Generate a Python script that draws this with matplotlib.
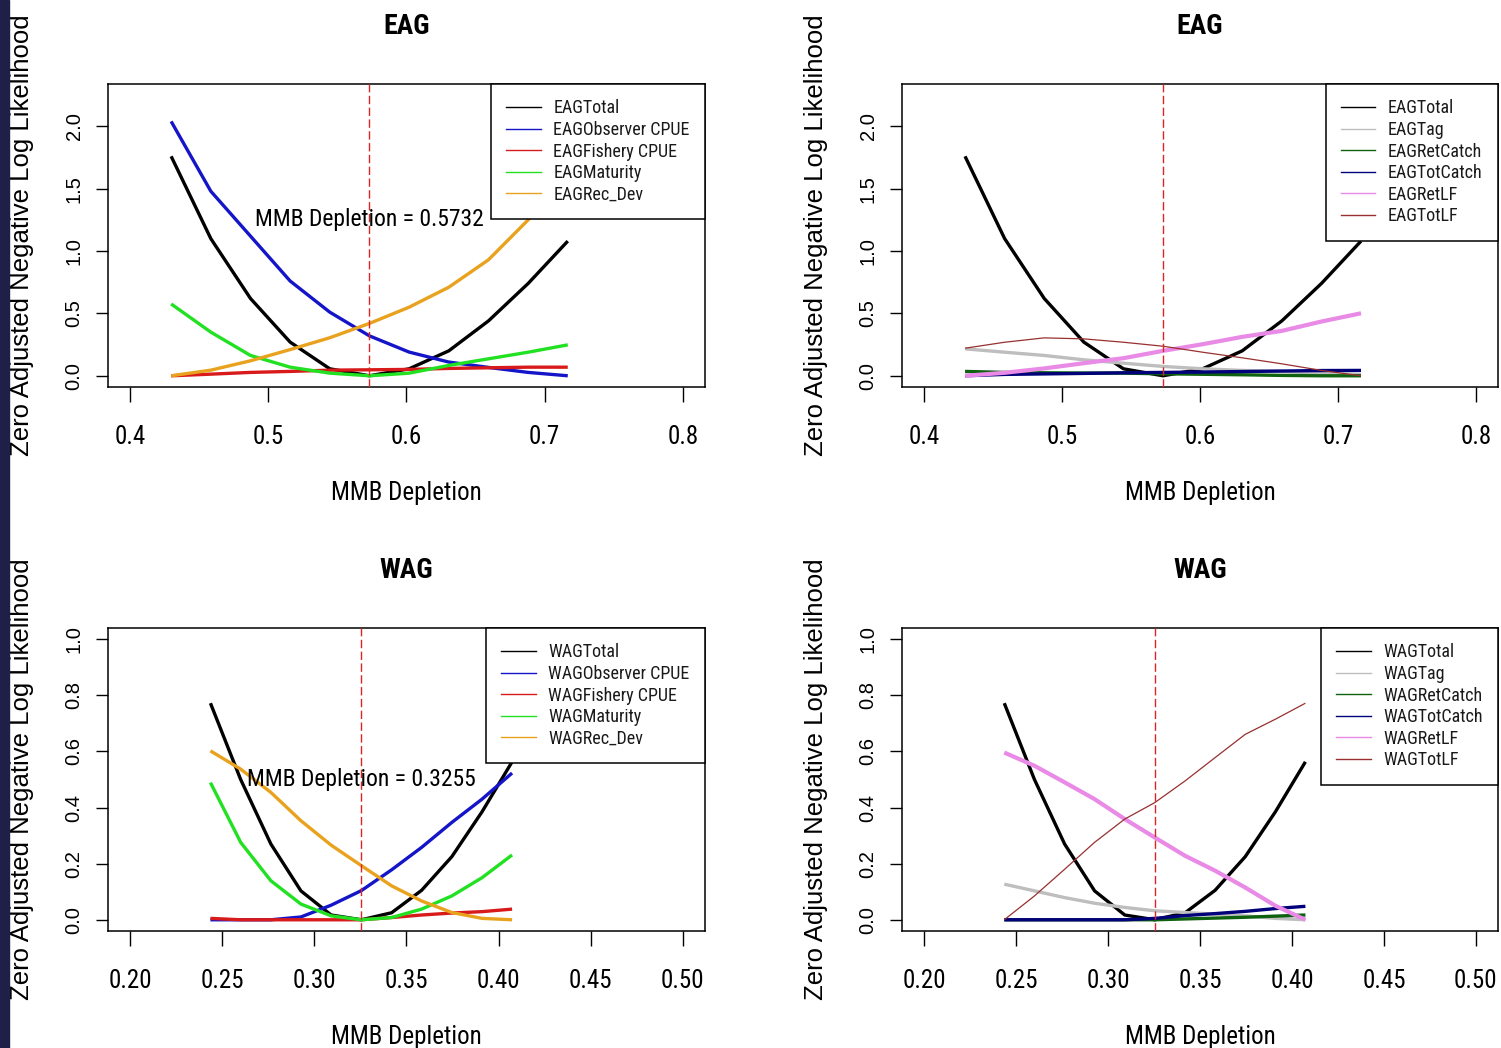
import matplotlib
matplotlib.use("Agg")
import matplotlib.pyplot as plt
from matplotlib import font_manager as fm
from matplotlib.lines import Line2D
from matplotlib.patches import Rectangle


def pick_font(names):
    for name in names:
        try:
            fm.findfont(fm.FontProperties(family=name), fallback_to_default=False)
            return name
        except ValueError:
            pass
    return None


# horizontal text is set in a narrow face; without one, shrink the regular face
NARROW = pick_font(["Liberation Sans Narrow", "Arial Narrow", "Roboto Condensed"])
REGULAR = pick_font(["Liberation Sans", "Arial"]) or "DejaVu Sans"
SHRINK = 1.0
if NARROW is None:
    NARROW = REGULAR
    SHRINK = 0.86

# ---- profile likelihood results ----
eag_x = [0.4297, 0.4584, 0.4871, 0.5158, 0.5445, 0.5732, 0.6019, 0.6306, 0.6593, 0.6880, 0.7167]
eag_total = [1.76, 1.10, 0.62, 0.27, 0.056, 0.0, 0.056, 0.20, 0.44, 0.74, 1.08]
eag_obs_cpue = [2.04, 1.48, 1.12, 0.76, 0.51, 0.32, 0.19, 0.11, 0.067, 0.027, 0.0]
eag_fish_cpue = [0.0, 0.013, 0.027, 0.035, 0.045, 0.048, 0.051, 0.059, 0.064, 0.069, 0.069]
eag_maturity = [0.576, 0.35, 0.163, 0.069, 0.021, 0.0, 0.021, 0.083, 0.136, 0.189, 0.248]
eag_rec_dev = [0.0, 0.045, 0.12, 0.21, 0.305, 0.42, 0.55, 0.71, 0.93, 1.25, 1.62]
eag_tag = [0.216, 0.189, 0.163, 0.128, 0.101, 0.075, 0.056, 0.043, 0.035, 0.021, 0.01]
eag_ret_catch = [0.035, 0.027, 0.024, 0.022, 0.021, 0.016, 0.012, 0.008, 0.003, 0.0, 0.0]
eag_tot_catch = [0.0, 0.011, 0.015, 0.019, 0.024, 0.027, 0.03, 0.034, 0.038, 0.042, 0.043]
eag_ret_lf = [0.0, 0.024, 0.059, 0.101, 0.141, 0.2, 0.253, 0.312, 0.36, 0.435, 0.501]
eag_tot_lf = [0.221, 0.269, 0.304, 0.296, 0.269, 0.237, 0.189, 0.144, 0.096, 0.043, 0.0]
eag_best = 0.5732

wag_x = [0.2436, 0.2600, 0.2764, 0.2927, 0.3091, 0.3255, 0.3419, 0.3582, 0.3746, 0.3910, 0.4073]
wag_total = [0.772, 0.50, 0.27, 0.103, 0.017, 0.0, 0.025, 0.105, 0.225, 0.385, 0.563]
wag_obs_cpue = [0.0, 0.0, 0.0, 0.01, 0.052, 0.104, 0.178, 0.258, 0.347, 0.43, 0.523]
wag_fish_cpue = [0.005, 0.0, 0.0, 0.0, 0.0, 0.0, 0.008, 0.017, 0.024, 0.029, 0.038]
wag_maturity = [0.489, 0.276, 0.139, 0.056, 0.014, 0.0, 0.008, 0.038, 0.085, 0.15, 0.231]
wag_rec_dev = [0.602, 0.537, 0.454, 0.353, 0.266, 0.193, 0.121, 0.067, 0.026, 0.005, 0.0]
wag_tag = [0.127, 0.103, 0.079, 0.059, 0.044, 0.032, 0.026, 0.02, 0.014, 0.005, 0.0]
wag_ret_catch = [0.0, 0.0, 0.0, 0.0, 0.0, 0.0, 0.003, 0.006, 0.009, 0.013, 0.017]
wag_tot_catch = [0.0, 0.0, 0.0, 0.0, 0.0, 0.005, 0.015, 0.022, 0.03, 0.04, 0.048]
wag_ret_lf = [0.596, 0.549, 0.49, 0.43, 0.359, 0.293, 0.228, 0.175, 0.115, 0.05, 0.0]
wag_tot_lf = [0.0, 0.085, 0.18, 0.276, 0.359, 0.418, 0.495, 0.578, 0.661, 0.715, 0.772]
wag_best = 0.3255

eag_xticks = [0.4, 0.5, 0.6, 0.7, 0.8]
eag_xticklabels = ["0.4", "0.5", "0.6", "0.7", "0.8"]
eag_yticks = [0.0, 0.5, 1.0, 1.5, 2.0]
eag_yticklabels = ["0.0", "0.5", "1.0", "1.5", "2.0"]
wag_xticks = [0.20, 0.25, 0.30, 0.35, 0.40, 0.45, 0.50]
wag_xticklabels = ["0.20", "0.25", "0.30", "0.35", "0.40", "0.45", "0.50"]
wag_yticks = [0.0, 0.2, 0.4, 0.6, 0.8, 1.0]
wag_yticklabels = ["0.0", "0.2", "0.4", "0.6", "0.8", "1.0"]

# colours and widths per component (R named colours)
C = {
    "Total": ("#000000", 2.4), "Observer CPUE": ("#1414c8", 2.4),
    "Fishery CPUE": ("#d81a1a", 2.4), "Maturity": ("#22e022", 2.4),
    "Rec_Dev": ("#e9a21e", 2.4), "Tag": ("#bebebe", 2.4),
    "RetCatch": ("#0e610e", 2.4), "TotCatch": ("#00007a", 2.4),
    "RetLF": ("#e88ae6", 3.0), "TotLF": ("#983030", 0.9),
}

W, H = 1501, 1048
fig = plt.figure(figsize=(W / 100, H / 100), dpi=100)
fig.patches.append(Rectangle((0, 0), 9 / W, 1, transform=fig.transFigure,
                             color="#1e2048", zorder=0))

f_tick = fm.FontProperties(family=NARROW, size=18 * SHRINK)
f_ytick = fm.FontProperties(family=REGULAR, size=14.5)
f_lab = fm.FontProperties(family=NARROW, size=18 * SHRINK)
f_ylab = fm.FontProperties(family=REGULAR, size=18.5)
f_title = fm.FontProperties(family=NARROW, size=20 * SHRINK, weight="bold")
f_leg = fm.FontProperties(family=NARROW, size=13 * SHRINK)
f_note = fm.FontProperties(family=NARROW, size=17 * SHRINK)


def panel(rect, title, x, series, xlim, ylim, xticks, xticklabels,
          yticks, yticklabels, best, note_y):
    left, top, width, height = rect
    ax = fig.add_axes([left / W, 1 - (top + height) / H, width / W, height / H])
    for name, (label, y) in series.items():
        col, lw = C[name]
        ax.plot(x, y, color=col, lw=lw, solid_capstyle="butt", zorder=2)
    ax.axvline(best, color="#dc2424", lw=1.0, ls=(0, (6, 2.5)), zorder=3)
    if note_y is not None:
        ax.text(best, note_y, "MMB Depletion = %.4f" % best, ha="center",
                va="center", fontproperties=f_note, zorder=4)

    xr = xlim[1] - xlim[0]
    yr = ylim[1] - ylim[0]
    ax.set_xlim(xlim[0] - 0.04 * xr, xlim[1] + 0.04 * xr)
    ax.set_ylim(ylim[0] - 0.04 * yr, ylim[1] + 0.04 * yr)
    ax.set_xticks(xticks)
    ax.set_xticklabels(xticklabels, fontproperties=f_tick)
    ax.set_yticks(yticks)
    ax.set_yticklabels(yticklabels, fontproperties=f_ytick, rotation=90,
                       va="center")
    ax.tick_params(axis="x", length=11, width=1.0, pad=16, direction="out")
    ax.tick_params(axis="y", length=8.5, width=1.0, pad=9, direction="out")
    for s in ax.spines.values():
        s.set_linewidth(1.1)

    ax.text(0.5, 1 + 58 / height, title, transform=ax.transAxes,
            ha="center", va="center", fontproperties=f_title)
    ax.text(0.5, -106 / height, "MMB Depletion", transform=ax.transAxes,
            ha="center", va="center", fontproperties=f_lab)
    ax.text(-86 / width, 0.5, "Zero Adjusted Negative Log Likelihood",
            transform=ax.transAxes, rotation=90, ha="center", va="center",
            fontproperties=f_ylab)

    handles = [Line2D([], [], color=C[n][0], lw=1.0) for n in series]
    labels = [lab for lab, _ in series.values()]
    leg = ax.legend(handles, labels, loc="upper right", bbox_to_anchor=(1, 1),
                    borderaxespad=0, fancybox=False, framealpha=1,
                    edgecolor="black", prop=f_leg, handlelength=1.9,
                    handletextpad=0.7, labelspacing=0.2, borderpad=0.85)
    leg.get_frame().set_linewidth(1.1)
    for t in leg.get_texts():
        t.set_color("#1a1a1a")
    leg.set_zorder(5)
    return ax


panel((108, 84, 597, 303), "EAG", eag_x, {
    "Total": ("EAGTotal", eag_total),
    "Observer CPUE": ("EAGObserver CPUE", eag_obs_cpue),
    "Fishery CPUE": ("EAGFishery CPUE", eag_fish_cpue),
    "Maturity": ("EAGMaturity", eag_maturity),
    "Rec_Dev": ("EAGRec_Dev", eag_rec_dev),
}, (0.4, 0.8), (0, 2.25), eag_xticks, eag_xticklabels, eag_yticks,
    eag_yticklabels, eag_best, 1.25)

panel((902, 84, 596, 303), "EAG", eag_x, {
    "Total": ("EAGTotal", eag_total),
    "Tag": ("EAGTag", eag_tag),
    "RetCatch": ("EAGRetCatch", eag_ret_catch),
    "TotCatch": ("EAGTotCatch", eag_tot_catch),
    "RetLF": ("EAGRetLF", eag_ret_lf),
    "TotLF": ("EAGTotLF", eag_tot_lf),
}, (0.4, 0.8), (0, 2.25), eag_xticks, eag_xticklabels, eag_yticks,
    eag_yticklabels, eag_best, None)

panel((108, 628, 597, 303), "WAG", wag_x, {
    "Total": ("WAGTotal", wag_total),
    "Observer CPUE": ("WAGObserver CPUE", wag_obs_cpue),
    "Fishery CPUE": ("WAGFishery CPUE", wag_fish_cpue),
    "Maturity": ("WAGMaturity", wag_maturity),
    "Rec_Dev": ("WAGRec_Dev", wag_rec_dev),
}, (0.2, 0.5), (0, 1.0), wag_xticks, wag_xticklabels, wag_yticks,
    wag_yticklabels, wag_best, 0.5)

panel((902, 628, 596, 303), "WAG", wag_x, {
    "Total": ("WAGTotal", wag_total),
    "Tag": ("WAGTag", wag_tag),
    "RetCatch": ("WAGRetCatch", wag_ret_catch),
    "TotCatch": ("WAGTotCatch", wag_tot_catch),
    "RetLF": ("WAGRetLF", wag_ret_lf),
    "TotLF": ("WAGTotLF", wag_tot_lf),
}, (0.2, 0.5), (0, 1.0), wag_xticks, wag_xticklabels, wag_yticks,
    wag_yticklabels, wag_best, None)

fig.savefig("out.png", dpi=100)
